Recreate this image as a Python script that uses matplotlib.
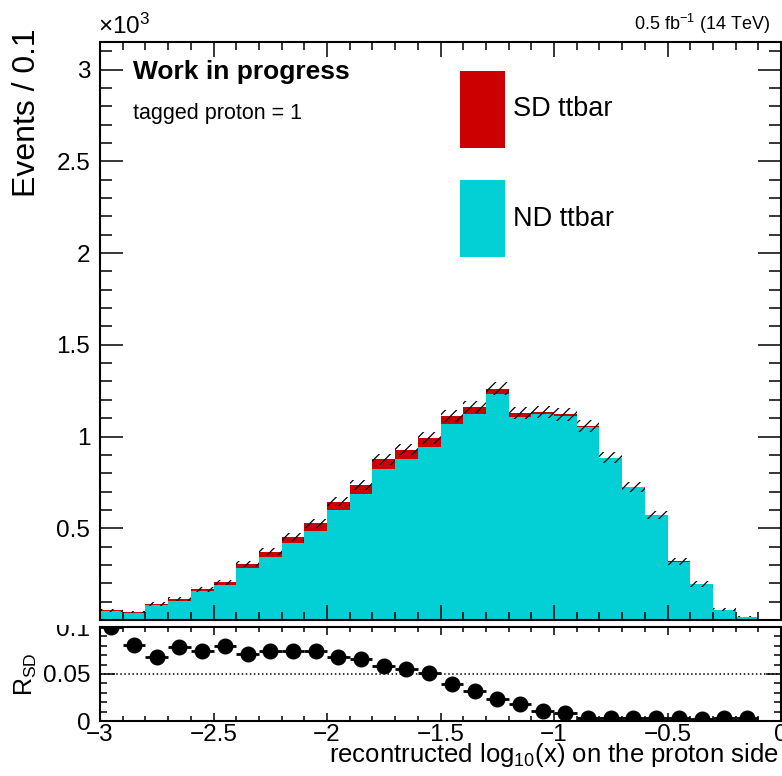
import numpy as np
import matplotlib
matplotlib.use("Agg")
import matplotlib.pyplot as plt
from matplotlib.patches import Rectangle
from matplotlib.ticker import MultipleLocator

plt.rcParams["font.family"] = ["Liberation Sans", "DejaVu Sans"]
plt.rcParams["mathtext.fontset"] = "custom"
plt.rcParams["mathtext.rm"] = "Liberation Sans"
plt.rcParams["mathtext.it"] = "Liberation Sans:italic"
plt.rcParams["mathtext.bf"] = "Liberation Sans:bold"
plt.rcParams["hatch.linewidth"] = 0.9

# bins of log10(x), width 0.1
bin_edges = np.round(np.arange(-3.0, 0.001, 0.1), 2)

# ND ttbar (bottom of stack) and SD ttbar (top of stack), events per bin
nd_ttbar = [47.7, 38.6, 81.1, 105.0, 155.4, 188.6, 282.4, 343.5, 419.5, 487.5,
            601.1, 685.6, 824.2, 877.9, 942.4, 1066.7, 1123.8, 1232.0, 1108.7, 1121.5,
            1111.0, 1052.2, 880.8, 722.4, 569.9, 317.9, 195.5, 55.8, 17.95, 0.0]
sd_ttbar = [5.3, 3.4, 5.9, 9.0, 12.6, 16.4, 21.6, 27.5, 33.5, 39.5,
            43.9, 48.4, 50.8, 51.1, 50.6, 43.3, 37.2, 29.0, 20.3, 12.5,
            9.0, 3.8, 3.2, 2.6, 2.1, 1.1, 0.5, 0.2, 0.05, 0.0]

ND_COLOR = "#03d0d5"
SD_COLOR = "#cc0000"

W, H = 782, 776


def fx(x):
    return x / W


def fy(y):
    return 1 - y / H


nd = np.array(nd_ttbar)
sd = np.array(sd_ttbar)
total = nd + sd
centers = 0.5 * (bin_edges[:-1] + bin_edges[1:])
width = 0.1

fig = plt.figure(figsize=(W / 100, H / 100), dpi=100)
rax = fig.add_axes([fx(100), fy(721), fx(781) - fx(100), fy(627) - fy(721)])
ax = fig.add_axes([fx(100), fy(620), fx(781) - fx(100), fy(42) - fy(620)])

# ---- upper pad: stacked histogram
ax.bar(centers, nd, width=width, color=ND_COLOR, linewidth=0)
ax.bar(centers, sd, width=width, bottom=nd, color=SD_COLOR, linewidth=0)
err = np.sqrt(total)
ax.bar(centers, 2 * err, width=width, bottom=total - err, fill=False,
       hatch="///", edgecolor="k", linewidth=0)

ax.set_xlim(-3, 0)
ax.set_ylim(0, 3150)
ax.xaxis.set_major_locator(MultipleLocator(0.5))
ax.xaxis.set_minor_locator(MultipleLocator(0.1))
ax.set_yticks([0, 500, 1000, 1500, 2000, 2500, 3000])
ax.set_yticklabels(["", "0.5", "1", "1.5", "2", "2.5", "3"])
ax.yaxis.set_minor_locator(MultipleLocator(100))
ax.tick_params(axis="both", which="both", direction="in", top=True, right=True,
               width=1.1, labelsize=17.5)
ax.tick_params(axis="x", which="major", length=11, labelbottom=False)
ax.tick_params(axis="x", which="minor", length=6)
ax.tick_params(axis="y", which="major", length=16.5, pad=7)
ax.tick_params(axis="y", which="minor", length=8.5)
for s in ax.spines.values():
    s.set_linewidth(1.5)

# ---- lower pad: SD fraction
filled = total > 0
ratio = sd[filled] / total[filled]
rax.errorbar(centers[filled], ratio, xerr=width / 2, fmt="o", color="k",
             ms=10.5, elinewidth=2, capsize=0)
rax.axhline(0.05, color="k", ls=":", lw=1.1)
rax.set_xlim(-3, 0)
rax.set_ylim(0, 0.1)
rax.set_yticks([0, 0.05, 0.1])
rax.set_yticklabels(["0", "0.05", "0.1"])
rax.yaxis.set_minor_locator(MultipleLocator(0.01))
rax.set_xticks([-3, -2.5, -2, -1.5, -1, -0.5, 0])
rax.set_xticklabels(["\u22123", "\u22122.5", "\u22122", "\u22121.5", "\u22121", "\u22120.5", "0"])
rax.xaxis.set_minor_locator(MultipleLocator(0.1))
rax.tick_params(axis="both", which="both", direction="in", top=True, right=True,
                width=1.1, labelsize=17.5)
rax.tick_params(axis="x", which="major", length=6, pad=2)
rax.tick_params(axis="x", which="minor", length=3.5)
rax.tick_params(axis="y", which="major", length=11, pad=7)
rax.tick_params(axis="y", which="minor", length=5)
for s in rax.spines.values():
    s.set_linewidth(1.5)

# hide the top half of the "0.1" label, like the upper pad does in ROOT
fig.add_artist(Rectangle((fx(30), fy(625)), fx(98) - fx(30), fy(600) - fy(625),
                         transform=fig.transFigure, facecolor="white",
                         edgecolor="none", zorder=5))

# ---- axis titles and labels
fig.text(fx(27), fy(28), "Events / 0.1", rotation=90, ha="center", va="top",
         fontsize=23)
fig.text(fx(26), fy(674), r"R$_{\mathrm{SD}}$", rotation=90, ha="center",
         va="center", fontsize=18)
fig.text(fx(779), fy(755), r"recontructed log$_{10}$(x) on the proton side",
         ha="right", va="center", fontsize=18.5)
fig.text(fx(98), fy(26), r"$\times$10$^{3}$", ha="left", va="center", fontsize=17.5)
fig.text(fx(770), fy(24), r"0.5 fb$^{-1}$ (14 TeV)", ha="right", va="center",
         fontsize=13)
fig.text(fx(133), fy(72), "Work in progress", ha="left", va="center",
         fontsize=19, fontweight="bold")
fig.text(fx(133), fy(113), "tagged proton = 1", ha="left", va="center",
         fontsize=15.5)

# ---- legend
legend_items = [("SD ttbar", SD_COLOR, 71, 148), ("ND ttbar", ND_COLOR, 180, 257)]
for label, color, y0, y1 in legend_items:
    fig.add_artist(Rectangle((fx(460), fy(y1)), fx(505) - fx(460), fy(y0) - fy(y1),
                             transform=fig.transFigure, facecolor=color,
                             edgecolor="none"))
    fig.text(fx(513), fy((y0 + y1) / 2), label, ha="left", va="center",
             fontsize=19.5)

fig.savefig("out.png", dpi=100)
